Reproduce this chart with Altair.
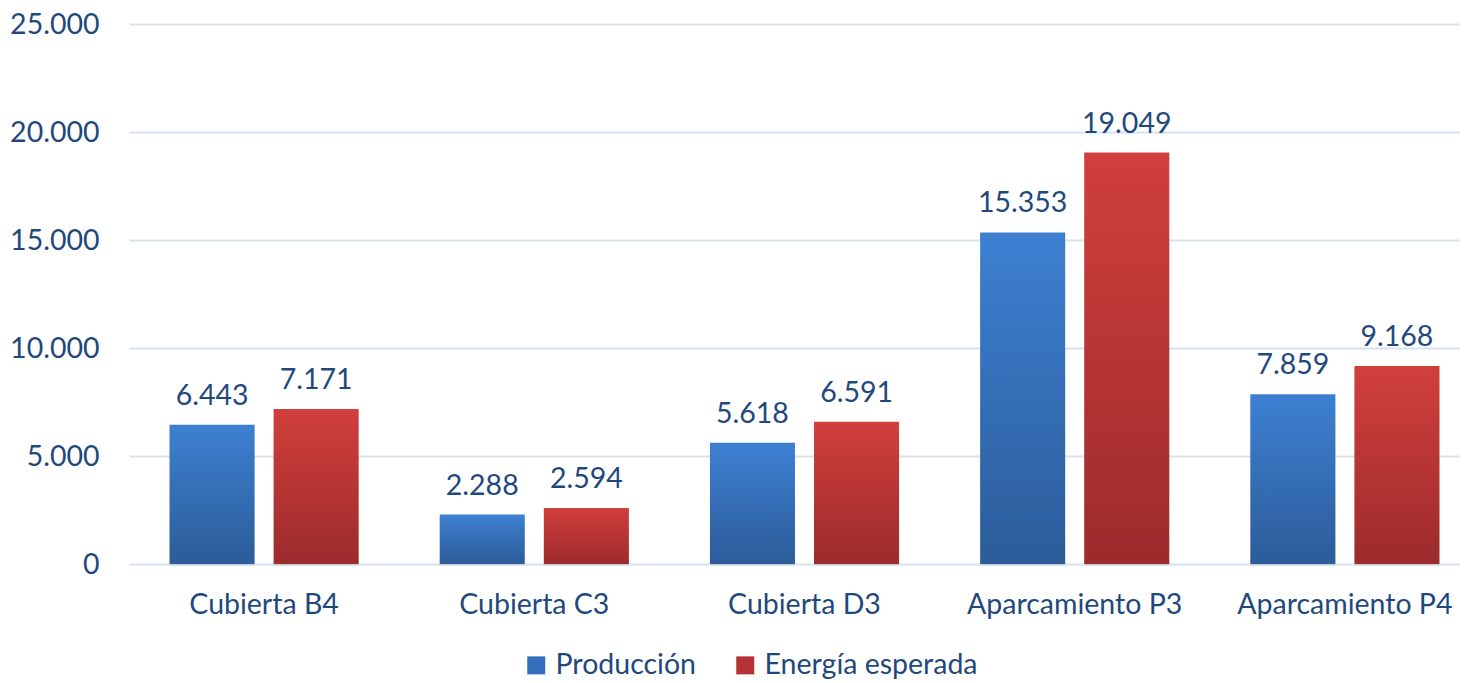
import altair as alt
import pandas as pd

categories = ["Cubierta B4", "Cubierta C3", "Cubierta D3", "Aparcamiento P3", "Aparcamiento P4"]
series = ["Producción", "Energía esperada"]
produccion = [6443, 2288, 5618, 15353, 7859]
energia = [7171, 2594, 6591, 19049, 9168]
y_ticks = [0, 5000, 10000, 15000, 20000, 25000]

rows = []
for c, p, e in zip(categories, produccion, energia):
    rows.append({"cat": c, "serie": series[0], "valor": p})
    rows.append({"cat": c, "serie": series[1], "valor": e})
df = pd.DataFrame(rows)
df["label"] = df["valor"].map(lambda v: f"{v:,}".replace(",", "."))

FONT = "Lato"
TXT = "#1F497D"
GRID = "#D6E2F1"
FS = 28.5

x = alt.X(
    "cat:N", sort=categories,
    scale=alt.Scale(domain=categories, paddingInner=0.3, paddingOuter=0.15),
    axis=alt.Axis(title=None, labelAngle=0, ticks=False, domain=False, labelPadding=26,
                  labelFontSize=FS, labelColor=TXT, labelFont=FONT, grid=False, labelLimit=0),
)
xo = alt.XOffset("serie:N", sort=series, scale=alt.Scale(domain=series, paddingInner=0.183))
y = alt.Y(
    "valor:Q", scale=alt.Scale(domain=[0, 25000], nice=False),
    axis=alt.Axis(title=None, values=y_ticks, domain=False, ticks=False, labelPadding=30,
                  labelFontSize=FS, labelColor=TXT, labelFont=FONT,
                  gridColor=GRID, gridWidth=2,
                  labelExpr="replace(format(datum.value, ','), ',', '.')"),
)

base = alt.Chart(df).encode(x=x, xOffset=xo, y=y)


def grad(top, bottom):
    return alt.Gradient(
        gradient="linear",
        stops=[alt.GradientStop(color=top, offset=0), alt.GradientStop(color=bottom, offset=1)],
        x1=0, x2=0, y1=0, y2=1,
    )


shadow = base.mark_bar(color="#000000", opacity=0.08, xOffset=2, yOffset=2)
blue = base.transform_filter(alt.datum.serie == series[0]).mark_bar(color=grad("#3D80D2", "#2C5C99"))
red = base.transform_filter(alt.datum.serie == series[1]).mark_bar(color=grad("#D13F3C", "#9C2B2B"))
labels = base.mark_text(baseline="alphabetic", dy=-20, fontSize=FS, font=FONT, color=TXT).encode(
    text="label:N"
)
legend_layer = base.mark_square(opacity=0, size=1).encode(
    color=alt.Color(
        "serie:N", sort=series,
        scale=alt.Scale(domain=series, range=["#3670BC", "#B53433"]),
        legend=alt.Legend(
            title=None, orient="none", legendX=393, legendY=627, direction="horizontal",
            symbolType="square", symbolSize=324, symbolOpacity=1, symbolStrokeWidth=0,
            labelFontSize=FS, labelFont=FONT, labelColor=TXT, columnPadding=34,
            labelOffset=5, labelLimit=0, padding=0,
        ),
    )
)

chart = (
    alt.layer(shadow, blue, red, labels, legend_layer)
    .properties(
        width=1351, height=540,
        background="white",
        autosize=alt.AutoSizeParams(type="none"),
        padding={"top": 16, "left": 121, "right": -20, "bottom": 116},
    )
    .configure_view(stroke=None, strokeWidth=0)
)

chart.save("out.html", embed_options={"renderer": "svg", "actions": False})
